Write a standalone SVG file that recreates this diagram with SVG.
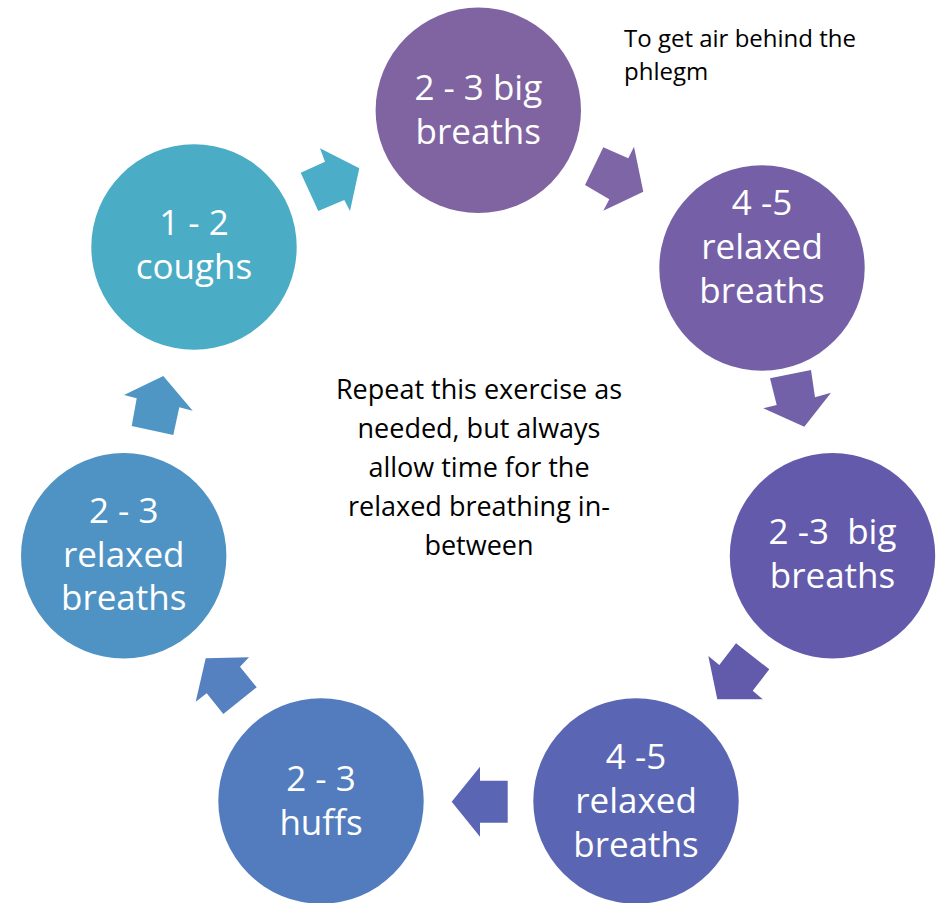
<svg xmlns="http://www.w3.org/2000/svg" width="942" height="903" viewBox="0 0 942 903">
<style>
.node text{font-family:"Open Sans","Liberation Sans",sans-serif;font-size:35px;fill:#ffffff;text-anchor:middle}
.note{font-family:"Open Sans","Liberation Sans",sans-serif;fill:#000000}
</style>
<rect width="942" height="903" fill="#ffffff"/>
<g id="connectors">
<polygon fill="#4BADC7" points="300.7,172.7 325,161.7 320,148.3 359.3,168.3 350,211 344.3,200 318.3,211"/>
<polygon fill="#7E65A5" points="603.3,147.3 628.3,158.3 634,146.7 643.3,191.7 603.3,210.7 609.3,199.3 585,185"/>
<polygon fill="#7261A8" points="770,378.3 811,370 815,397.3 831,392.7 804.3,426.7 763.3,408.3 776.7,405"/>
<polygon fill="#625BAC" points="736,643.3 769.3,669.3 752.7,690.7 762.7,699.3 717.3,699.3 708.3,656 719.3,665"/>
<polygon fill="#5A66B3" points="480,766.7 480,780.7 507.7,780.7 507.7,822.7 480,822.7 480,836.7 451.7,801.7"/>
<polygon fill="#5581C0" points="205.7,658.3 249,657.3 240,666.7 256.7,687.3 223.3,714 206.7,693.3 195.7,701.7"/>
<polygon fill="#4F96C5" points="163.3,376 192.7,410.7 179.3,407.3 173.3,435 131.7,426 136.7,398.3 124,395"/>
</g>
<g id="node1" class="node">
<circle cx="478.3" cy="110.3" r="102.7" fill="#8064A2"/>
<text x="478.3" y="100">2 - 3 big</text>
<text x="478.3" y="144">breaths</text>
</g>
<g id="node2" class="node">
<circle cx="762" cy="268" r="102.7" fill="#7560A7"/>
<text x="762" y="215">4 -5</text>
<text x="762" y="259">relaxed</text>
<text x="762" y="303">breaths</text>
</g>
<g id="node3" class="node">
<circle cx="832.5" cy="555.7" r="102.7" fill="#635AAB"/>
<text x="832.5" y="544" xml:space="preserve">2 -3  big</text>
<text x="832.5" y="588">breaths</text>
</g>
<g id="node4" class="node">
<circle cx="636" cy="801" r="102.7" fill="#5A66B3"/>
<text x="636" y="769">4 -5</text>
<text x="636" y="813">relaxed</text>
<text x="636" y="857">breaths</text>
</g>
<g id="node5" class="node">
<circle cx="321" cy="801" r="102.7" fill="#527CBE"/>
<text x="321" y="791">2 - 3</text>
<text x="321" y="835">huffs</text>
</g>
<g id="node6" class="node">
<circle cx="123.7" cy="555.8" r="102.7" fill="#4F93C4"/>
<text x="123.7" y="523">2 - 3</text>
<text x="123.7" y="567">relaxed</text>
<text x="123.7" y="610">breaths</text>
</g>
<g id="node7" class="node">
<circle cx="194" cy="247" r="102.7" fill="#4BACC6"/>
<text x="194" y="235">1 - 2</text>
<text x="194" y="279">coughs</text>
</g>
<g id="note-top">
<text class="note" x="624" y="47" font-size="24">To get air behind the</text>
<text class="note" x="624" y="80" font-size="24">phlegm</text>
</g>
<g id="note-center">
<text class="note" x="479" y="399" font-size="27" text-anchor="middle">Repeat this exercise as</text>
<text class="note" x="479" y="438" font-size="27" text-anchor="middle">needed, but always</text>
<text class="note" x="479" y="477" font-size="27" text-anchor="middle">allow time for the</text>
<text class="note" x="479" y="516" font-size="27" text-anchor="middle">relaxed breathing in-</text>
<text class="note" x="479" y="555" font-size="27" text-anchor="middle">between</text>
</g>
</svg>
